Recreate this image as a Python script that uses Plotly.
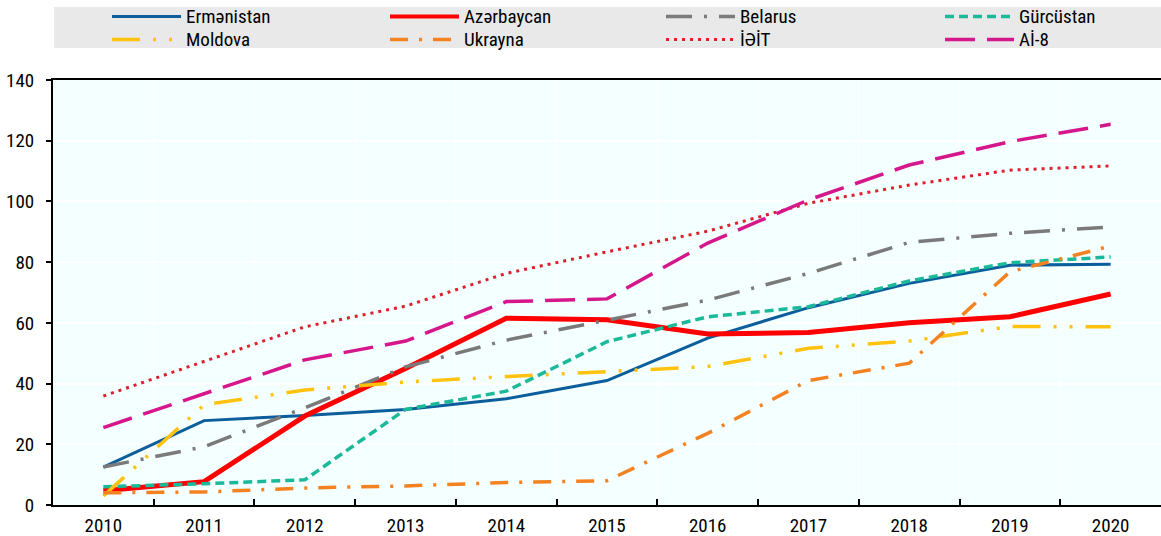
import plotly.graph_objects as go

years = ["2010", "2011", "2012", "2013", "2014", "2015", "2016", "2017", "2018", "2019", "2020"]

armenia    = [12.5, 27.8, 29.5, 31.5, 35.0, 41.0, 55.0, 65.0, 73.0, 79.0, 79.3]
azerbaijan = [4.7, 7.7, 29.3, 45.0, 61.5, 61.0, 56.3, 56.8, 60.0, 62.0, 69.5]
belarus    = [12.5, 19.2, 32.0, 45.5, 54.3, 61.0, 67.5, 76.3, 86.5, 89.5, 91.6]
georgia    = [6.0, 7.0, 8.3, 31.5, 37.5, 53.8, 62.0, 65.3, 73.8, 79.8, 81.7]
moldova    = [3.0, 33.0, 37.9, 40.5, 42.3, 43.9, 45.6, 51.6, 54.0, 58.8, 58.7]
ukraine    = [4.0, 4.3, 5.6, 6.3, 7.4, 8.0, 23.6, 41.0, 46.7, 76.8, 85.3]
oecd       = [35.9, 47.2, 58.7, 65.5, 76.3, 83.4, 90.2, 99.4, 105.4, 110.3, 111.7]
eu8        = [25.5, 36.5, 47.8, 54.0, 67.0, 67.9, 86.3, 100.5, 112.0, 119.7, 125.4]

names = ["Ermənistan", "Azərbaycan", "Belarus", "Gürcüstan",
         "Moldova", "Ukrayna", "İƏİT", "Aİ-8"]
series = [armenia, azerbaijan, belarus, georgia, moldova, ukraine, oecd, eu8]

colors = ["#0B5E9B", "#FF0000", "#7A7A7A", "#1BB99A",
          "#FFC20E", "#F58220", "#DC1F2B", "#D6168B"]
widths = [3, 5, 3.5, 3.5, 3.5, 3.5, 3, 3.5]
dashes = ["solid", "solid", "26px,12px,3px,12px", "9px,5px",
          "28px,13px,3px,13px,3px,13px", "18px,11px,3px,11px", "3px,5px", "30px,12px"]

FONT = "Roboto Condensed, Liberation Sans Narrow, Arial Narrow, Liberation Sans, Arial, sans-serif"
FS = 19

fig = go.Figure()
for name, vals, c, w, d in zip(names, series, colors, widths, dashes):
    fig.add_trace(go.Scatter(x=years, y=vals, name=name, mode="lines",
                             line=dict(color=c, width=w, dash=d),
                             showlegend=False))

# ---- manual legend (layout decoration) ----
L, R, T, B = 53, 0, 80, 31
W, H = 1161 - L - R, 536 - T - B
def px(x):
    return (x - L) / W
def py(y):
    return (536 - B - y) / H

shapes = [dict(type="rect", xref="paper", yref="paper",
               x0=px(54), x1=px(1161), y0=py(48), y1=py(7),
               fillcolor="#E9E9E9", line=dict(width=0), layer="below")]
annotations = []
col_sym = [112, 390, 666, 945]
row_y = [16.5, 39.5]
for i, (name, c, w, d) in enumerate(zip(names, colors, widths, dashes)):
    r, k = divmod(i, 4)
    x0 = col_sym[k]
    yy = row_y[r]
    shapes.append(dict(type="line", xref="paper", yref="paper",
                       x0=px(x0), x1=px(x0 + 69), y0=py(yy), y1=py(yy),
                       line=dict(color=c, width=min(w, 4), dash=d)))
    annotations.append(dict(text=name, xref="paper", yref="paper",
                            x=px(x0 + 73), y=py(yy), xanchor="left", yanchor="middle",
                            borderpad=0, showarrow=False,
                            font=dict(size=FS, color="#000000", family=FONT)))

fig.update_layout(
    width=1161, height=536,
    margin=dict(l=L, r=R, t=T, b=B),
    paper_bgcolor="#FFFFFF",
    plot_bgcolor="#F4FFFF",
    font=dict(family=FONT, size=FS, color="#000000"),
    shapes=shapes,
    annotations=annotations,
    showlegend=False,
)
fig.update_xaxes(
    type="category", range=[-0.5, 10.5],
    tickson="boundaries", ticks="inside", ticklen=6, tickwidth=2, tickcolor="#000000",
    showline=True, linecolor="#000000", linewidth=2, mirror=True,
    showgrid=True, gridcolor="#FFFFFF", gridwidth=1,
    tickfont=dict(size=FS, family=FONT),
    ticklabelstandoff=2,
)
fig.update_yaxes(
    range=[0, 140], dtick=20, tick0=0,
    ticks="outside", ticklen=5, tickwidth=1.5, tickcolor="#000000",
    showline=True, linecolor="#000000", linewidth=2,
    showgrid=True, gridcolor="#FFFFFF", gridwidth=1.5,
    zeroline=False,
    tickfont=dict(size=FS, family=FONT),
    ticklabelstandoff=8,
)

fig.write_html("out.html", config={"displayModeBar": False},
               post_script="document.body.style.margin='0';document.body.style.padding='0';")
